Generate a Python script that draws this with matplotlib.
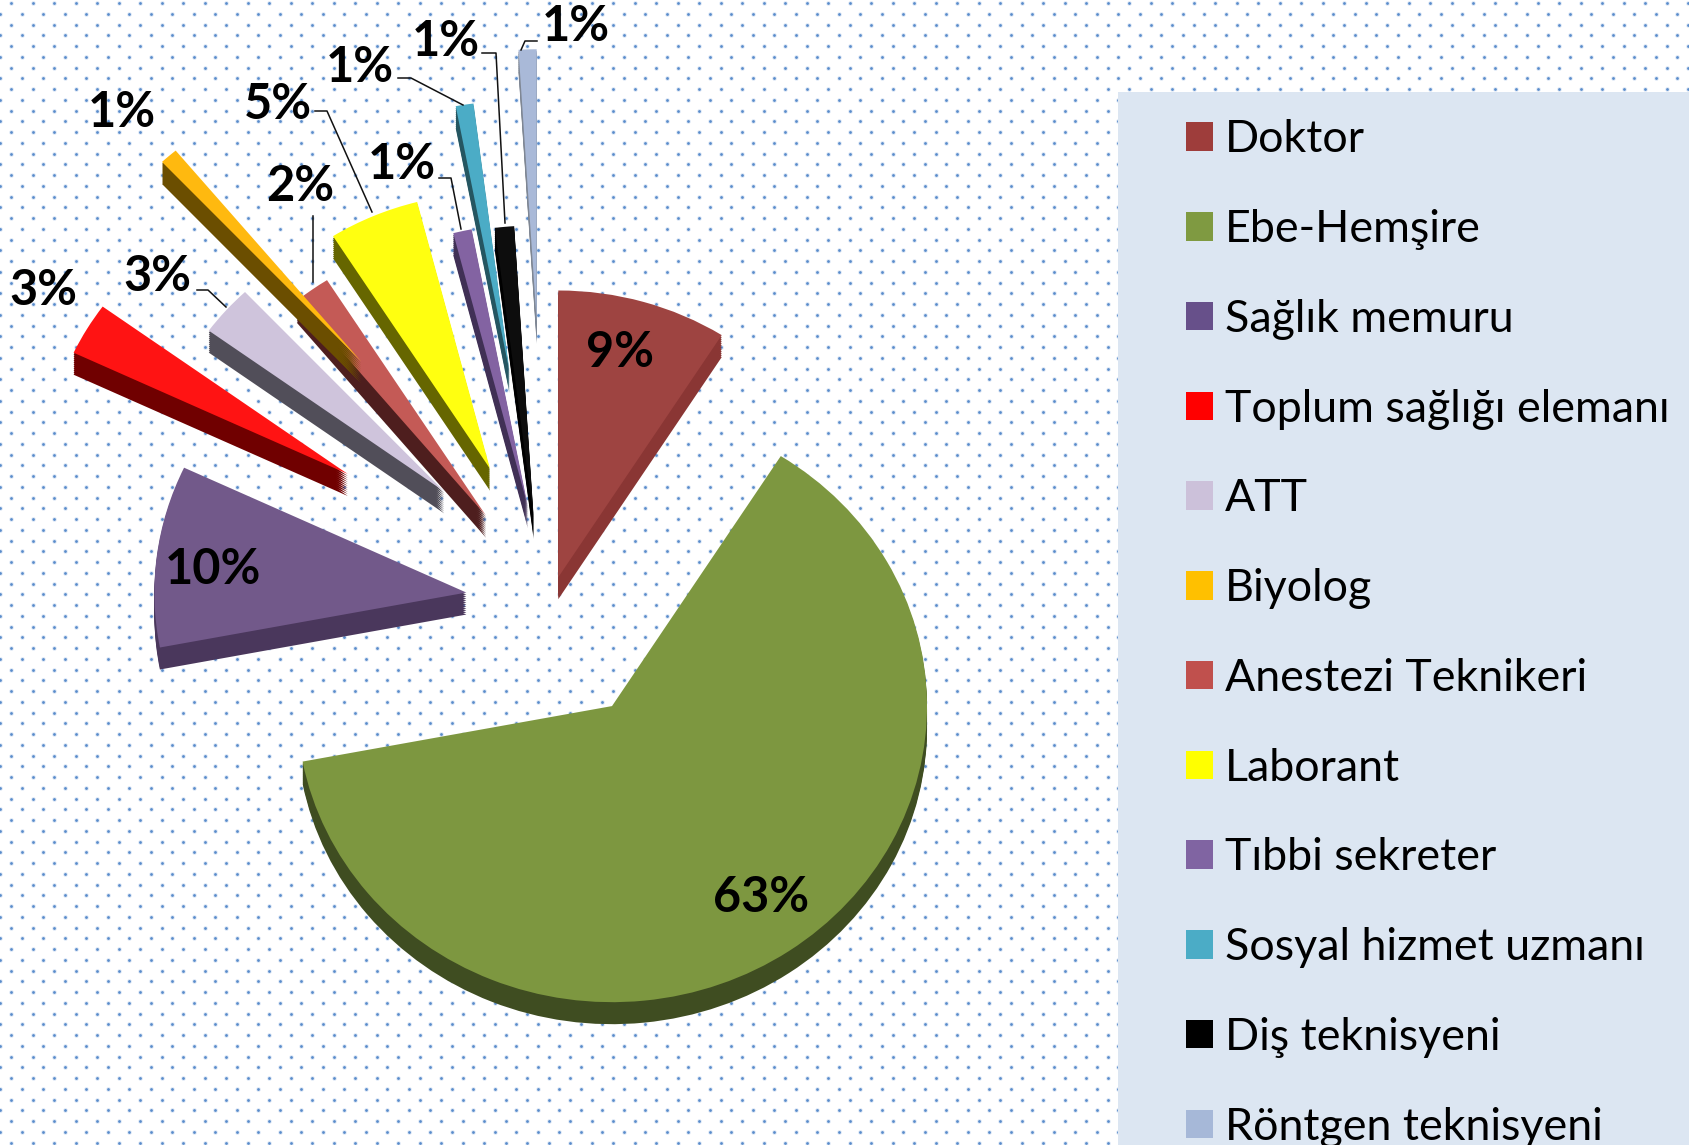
#!/usr/bin/env python3
"""Exploded 3D-looking pie of staff groups, with dotted background and side legend."""
import numpy as np
import matplotlib
matplotlib.use('Agg')
import matplotlib.pyplot as plt
from matplotlib.patches import Patch, Rectangle

labels = ['Doktor', 'Ebe-Hemşire', 'Sağlık memuru', 'Toplum sağlığı elemanı', 'ATT', 'Biyolog',
          'Anestezi Teknikeri', 'Laborant', 'Tıbbi sekreter', 'Sosyal hizmet uzmanı',
          'Diş teknisyeni', 'Röntgen teknisyeni']
values = [9, 63, 10, 3, 3, 1, 2, 5, 1, 1, 1, 1]

top_colors = ['#9E4441', '#7D9740', '#72598A', '#FF1313', '#CFC4DC', '#FFB90F',
              '#C45A56', '#FFFF10', '#8363A2', '#4BACC6', '#0D0D0D', '#A9B9D8']
side_colors = ['#8A3634', '#3F4D21', '#4A375C', '#700000', '#514E59', '#6B4E00',
               '#4E1E1E', '#666600', '#403055', '#255661', '#000000', '#7F8794']
legend_colors = ['#9E3D3B', '#7F9A41', '#67508A', '#FF0000', '#CCC1DA', '#FFC000',
                 '#C0504D', '#FFFF00', '#8064A2', '#4BACC6', '#000000', '#A6B8D8']

# layout of the slices, in px of the output
explode = [27, 131, 79, 238, 152, 312, 107, 150, 101, 246, 89, 296]
drift = [6, 8, -2, 15, 20, 30, 5, 5, 5, 3, -3, 1]
radii = [305, 315, 312, 303, 291, 291, 297, 293, 300, 287, 310, 290]
order = [0, 1, 2, 3, 4, 6, 7, 8, 9, 10, 11, 5]   # biyolog sits on top of its neighbours

W, H = 1690, 1145
CX, CY, SQUASH = 545, 600, 0.94
DEPTH = 22


def px(x, y):
    """Output pixel to data coordinates of the squashed pie axes."""
    return x - CX, (CY - y) / SQUASH


fig = plt.figure(figsize=(W / 100, H / 100), dpi=100, facecolor='white')
ax = fig.add_axes([0, 0, 1, 1])

# dotted background
for x0, y0 in [(11.2, 3.2), (0.45, 13.95)]:
    gx, gy = np.meshgrid(np.arange(x0, W, 21.5), np.arange(y0, H, 21.5))
    dx, dy = px(gx, gy)
    ax.scatter(dx, dy, s=11, color='#DCE7F5', linewidths=0, zorder=0)
    ax.scatter(dx, dy, s=4, color='#5A8CCB', linewidths=0, zorder=0.1)

mids = np.radians(90 - (np.cumsum(values) - np.array(values) / 2) * 3.6)


def layer(offset, colors, base):
    wedges, _ = ax.pie(values, explode=explode, colors=colors, startangle=90, counterclock=False,
                       center=(0, offset), wedgeprops={'linewidth': 0})
    for i, w in enumerate(wedges):
        cx, cy = w.center
        w.set_center((cx + drift[i] * np.sin(mids[i]), cy - drift[i] * np.cos(mids[i])))
        w.set_radius(radii[i])
        w.set_zorder(order.index(i) + base)


for d in np.arange(DEPTH, 0, -2.0):
    layer(-d / SQUASH, side_colors, 1)
layer(0, top_colors, 1.5)

# leader lines
leaders = [[(197, 290), (208, 290), (226, 307)], [(313, 216), (313, 282)],
           [(315, 111), (327, 111), (372, 212)], [(439, 178), (451, 178), (461, 229)],
           [(398, 78), (411, 78), (463, 105)], [(482, 53), (496, 53), (505, 223)],
           [(537, 41), (525, 41), (521, 50)]]
for pts in leaders:
    lx, ly = px(*np.array(pts).T)
    ax.plot(lx, ly, color='#111111', lw=1.1, zorder=20)

# percent labels
label_pos = [(620, 353), (761, 898), (213, 570), (43, 291), (157, 277), (122, 113),
             (300, 187), (278, 105), (402, 165), (360, 67), (446, 42), (576, 27)]
for v, (x, y) in zip(values, label_pos):
    tx, ty = px(x, y)
    ax.text(tx, ty, f'{v}%', ha='center', va='center', family='Lato', weight='bold',
            fontsize=35, color='black', zorder=21)

# legend panel
px0, py0 = px(1118, 92)
px1, py1 = px(W, H)
ax.add_patch(Rectangle((px0, py1), px1 - px0, py0 - py1, facecolor='#DCE6F2', edgecolor='none', zorder=15))

ax.set_xlim(px(0, 0)[0], px(W, 0)[0])
ax.set_ylim(px(0, H)[1], px(0, 0)[1])
ax.set_aspect('auto')

FS = 32.2
fpx = FS * 100 / 72
handles = [Patch(facecolor=c, edgecolor='none') for c in legend_colors]
lx, ly = px(1186, 119.4)
leg = ax.legend(handles, labels, loc='upper left', bbox_to_anchor=(lx, ly), bbox_transform=ax.transData,
                frameon=False, borderpad=0, borderaxespad=0, handlelength=27 / fpx, handleheight=27 / fpx,
                handletextpad=12 / fpx, labelspacing=1.09, prop={'family': 'Lato', 'size': FS})
leg.set_zorder(16)

fig.savefig('out.png', dpi=100)
